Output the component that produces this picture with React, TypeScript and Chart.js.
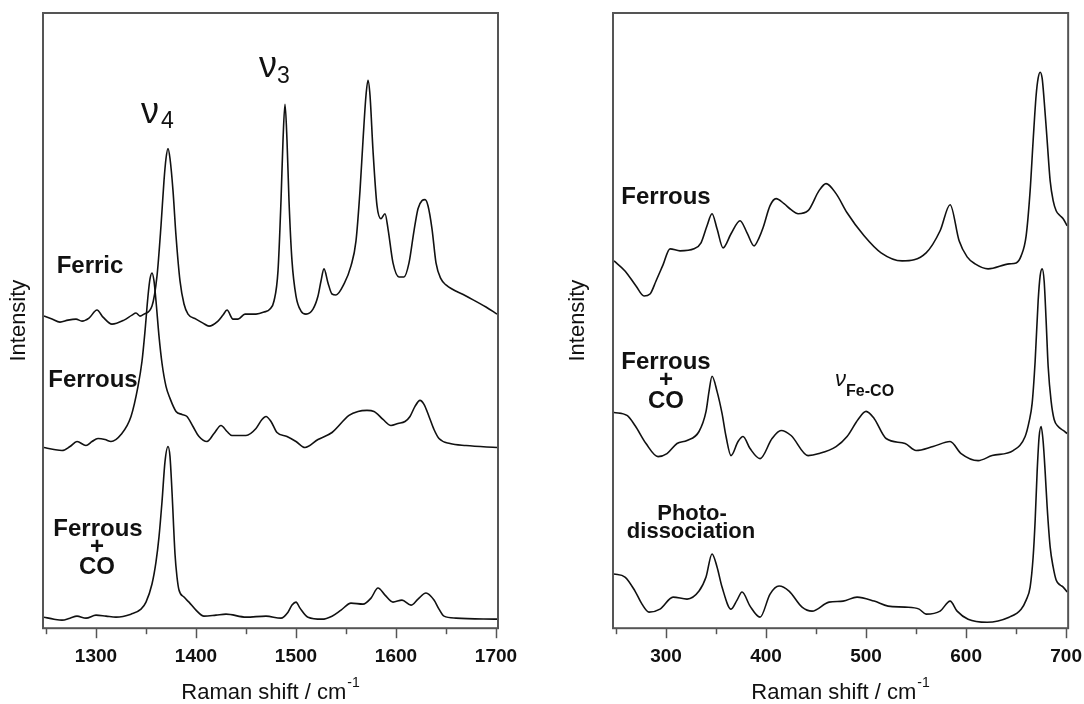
import React, { useEffect, useRef } from 'react';
import { Chart, registerables } from 'chart.js';

Chart.register(...registerables);

const FONT = '"Liberation Sans", Arial, Helvetica, sans-serif';
const INK = '#111111';
const FRAME = '#555555';

// axis ranges (Raman shift, cm-1) and intensity range (arbitrary units)
const leftRange: [number, number] = [1247, 1702];
const rightRange: [number, number] = [247, 702];
const intensityRange: [number, number] = [0, 613];

const leftTicks = [1250, 1300, 1350, 1400, 1450, 1500, 1550, 1600, 1650, 1700];
const rightTicks = [250, 300, 350, 400, 450, 500, 550, 600, 650, 700];

// ---- left panel: high-frequency region ----
const ferric: [number, number][] = [
  [1248, 311], [1256, 308], [1264, 305], [1272, 307], [1280, 308], [1286, 306], [1293, 309], [1301, 317],
  [1307, 310], [1316, 303], [1328, 307], [1336, 312], [1340, 314], [1344, 311], [1348, 313], [1356, 321],
  [1361, 351], [1365, 401], [1368, 446], [1370, 468], [1372, 478], [1374, 468], [1377, 436], [1380, 391],
  [1384, 346], [1388, 323], [1392, 313], [1400, 308], [1407, 304], [1413, 301], [1422, 306], [1427, 312],
  [1431, 317], [1437, 308], [1442, 308], [1449, 313], [1460, 313], [1468, 315], [1474, 318], [1478, 326],
  [1482, 356], [1485, 426], [1487, 486], [1489, 522], [1491, 486], [1493, 426], [1496, 366], [1500, 331],
  [1505, 316], [1510, 313], [1517, 318], [1522, 331], [1525, 346], [1528, 358], [1532, 344], [1536, 333],
  [1540, 332], [1548, 343], [1555, 361], [1560, 386], [1564, 436], [1567, 486], [1570, 531], [1572, 546],
  [1574, 531], [1577, 476], [1581, 421], [1585, 408], [1589, 413], [1592, 398], [1597, 364], [1603, 350],
  [1608, 350], [1613, 364], [1618, 396], [1622, 418], [1626, 426], [1629, 427], [1632, 421], [1636, 398],
  [1640, 364], [1645, 348], [1650, 342], [1670, 331], [1690, 320], [1701, 313],
];

const ferrousHigh: [number, number][] = [
  [1248, 180], [1258, 178], [1266, 177], [1274, 181], [1281, 186], [1290, 182], [1296, 186], [1302, 189],
  [1309, 188], [1315, 186], [1325, 193], [1335, 211], [1342, 241], [1346, 266], [1349, 296], [1352, 331],
  [1354, 348], [1356, 354], [1358, 346], [1360, 326], [1363, 291], [1366, 264], [1370, 241], [1374, 229],
  [1380, 216], [1386, 213], [1391, 211], [1397, 201], [1403, 191], [1411, 186], [1418, 194], [1425, 202],
  [1431, 196], [1436, 192], [1450, 192], [1460, 199], [1466, 208], [1470, 211], [1475, 206], [1481, 195],
  [1491, 191], [1500, 186], [1509, 180], [1522, 188], [1536, 195], [1553, 212], [1562, 216], [1571, 217],
  [1578, 216], [1587, 208], [1595, 202], [1602, 204], [1609, 206], [1614, 211], [1619, 221], [1624, 227],
  [1628, 223], [1633, 211], [1638, 198], [1643, 189], [1654, 184], [1670, 182], [1701, 180],
];

const ferrousCOHigh: [number, number][] = [
  [1248, 11], [1258, 9], [1266, 8], [1274, 10], [1281, 12], [1290, 10], [1300, 13], [1310, 12],
  [1320, 11], [1335, 14], [1345, 19], [1350, 26], [1356, 44], [1360, 66], [1363, 91], [1366, 126],
  [1369, 166], [1372, 181], [1374, 171], [1376, 136], [1379, 74], [1381, 51], [1383, 38], [1388, 31],
  [1393, 26], [1400, 18], [1408, 12], [1420, 13], [1430, 14], [1450, 11], [1470, 12], [1485, 10],
  [1492, 16], [1496, 23], [1500, 26], [1504, 20], [1512, 11], [1526, 9], [1536, 12], [1545, 18],
  [1555, 25], [1567, 24], [1575, 30], [1582, 40], [1589, 33], [1597, 26], [1606, 28], [1615, 23],
  [1622, 29], [1630, 35], [1638, 28], [1643, 19], [1648, 12], [1660, 10], [1701, 9],
];

// ---- right panel: low-frequency region ----
const ferrousLow: [number, number][] = [
  [248, 366], [259, 356], [270, 341], [278, 331], [284, 333], [290, 346], [297, 362], [304, 378],
  [314, 376], [328, 378], [335, 384], [341, 401], [346, 413], [351, 398], [357, 379], [365, 393],
  [374, 406], [381, 394], [388, 381], [393, 389], [397, 399], [404, 421], [410, 428], [418, 423],
  [425, 417], [432, 413], [442, 416], [453, 436], [460, 443], [470, 433], [481, 414], [498, 391],
  [515, 374], [536, 366], [560, 374], [574, 396], [584, 422], [593, 386], [601, 370], [609, 363],
  [622, 358], [643, 363], [650, 364], [655, 371], [660, 391], [664, 436], [667, 486], [670, 531],
  [672, 548], [674, 554], [676, 548], [678, 526], [681, 486], [684, 446], [687, 426], [690, 416],
  [694, 411], [697, 408], [701, 401],
];

const ferrousCOLow: [number, number][] = [
  [248, 215], [261, 212], [269, 202], [280, 184], [292, 171], [301, 174], [311, 184], [321, 187],
  [333, 196], [340, 216], [343, 236], [346, 251], [351, 236], [356, 214], [360, 191], [365, 172],
  [372, 186], [377, 191], [384, 179], [394, 169], [406, 189], [415, 197], [425, 192], [442, 172],
  [453, 174], [470, 181], [481, 191], [492, 208], [500, 216], [508, 209], [520, 189], [539, 184],
  [550, 177], [567, 181], [584, 186], [595, 174], [612, 167], [626, 172], [647, 177], [659, 191],
  [663, 206], [666, 224], [669, 266], [672, 326], [674, 351], [676, 358], [678, 346], [680, 306],
  [682, 261], [685, 226], [688, 208], [692, 201], [697, 197], [701, 194],
];

const photodissociation: [number, number][] = [
  [248, 54], [259, 51], [269, 37], [276, 24], [283, 16], [294, 19], [307, 31], [321, 29],
  [333, 37], [340, 51], [346, 74], [351, 61], [356, 41], [365, 19], [371, 28], [376, 36],
  [384, 22], [394, 11], [404, 34], [413, 42], [423, 37], [436, 21], [446, 17], [463, 26],
  [477, 27], [491, 31], [508, 27], [522, 22], [539, 21], [553, 19], [560, 14], [574, 17],
  [584, 27], [591, 17], [602, 9], [621, 6], [643, 11], [655, 19], [660, 28], [664, 41],
  [667, 71], [669, 107], [671, 156], [673, 191], [675, 201], [677, 186], [679, 156], [681, 121],
  [684, 81], [687, 61], [690, 48], [694, 43], [697, 41], [701, 36],
];

type Note = {
  text: string;
  x: number; // Raman shift anchor
  y: number; // intensity anchor
  font: string;
  align: CanvasTextAlign;
  baseline: CanvasTextBaseline;
};

const NAME = `bold 24px ${FONT}`;

const leftNotes: Note[] = [
  { text: 'ν', x: 1345, y: 503, font: `36px ${FONT}`, align: 'left', baseline: 'alphabetic' },
  { text: '4', x: 1365, y: 498, font: `23px ${FONT}`, align: 'left', baseline: 'alphabetic' },
  { text: 'ν', x: 1463, y: 549, font: `36px ${FONT}`, align: 'left', baseline: 'alphabetic' },
  { text: '3', x: 1481, y: 543, font: `23px ${FONT}`, align: 'left', baseline: 'alphabetic' },
  { text: 'Ferric', x: 1294, y: 361, font: NAME, align: 'center', baseline: 'middle' },
  { text: 'Ferrous', x: 1297, y: 247, font: NAME, align: 'center', baseline: 'middle' },
  { text: 'Ferrous', x: 1302, y: 98, font: NAME, align: 'center', baseline: 'middle' },
  { text: '+', x: 1301, y: 81, font: NAME, align: 'center', baseline: 'middle' },
  { text: 'CO', x: 1301, y: 61, font: NAME, align: 'center', baseline: 'middle' },
];

const rightNotes: Note[] = [
  { text: 'Ferrous', x: 300, y: 429, font: NAME, align: 'center', baseline: 'middle' },
  { text: 'Ferrous', x: 300, y: 265, font: NAME, align: 'center', baseline: 'middle' },
  { text: '+', x: 300, y: 247, font: NAME, align: 'center', baseline: 'middle' },
  { text: 'CO', x: 300, y: 226, font: NAME, align: 'center', baseline: 'middle' },
  { text: 'Photo-', x: 326, y: 114, font: `bold 22px ${FONT}`, align: 'center', baseline: 'middle' },
  { text: 'dissociation', x: 325, y: 96, font: `bold 22px ${FONT}`, align: 'center', baseline: 'middle' },
  { text: 'ν', x: 469, y: 241, font: `italic 22px ${FONT}`, align: 'left', baseline: 'alphabetic' },
  { text: 'Fe-CO', x: 480, y: 231, font: `bold 16px ${FONT}`, align: 'left', baseline: 'alphabetic' },
];

type PanelCfg = {
  left: number;
  width: number;
  range: [number, number];
  ticks: number[];
  series: [number, number][][];
  notes: Note[];
  padding: { left: number; right: number; top: number; bottom: number };
  yTitleGap: number;
};

function makeDecor(cfg: PanelCfg) {
  return {
    id: 'decor',
    afterDraw(chart: any) {
      const { ctx, chartArea: a, scales } = chart;
      const xs = scales.x;
      const ys = scales.y;
      ctx.save();
      // frame
      ctx.strokeStyle = FRAME;
      ctx.lineWidth = 2;
      ctx.strokeRect(a.left, a.top, a.right - a.left, a.bottom - a.top);
      // tick marks
      ctx.lineWidth = 1.5;
      for (const t of cfg.ticks) {
        const px = Math.round(xs.getPixelForValue(t)) + 0.5;
        const len = t % 100 === 0 ? 10 : 6;
        ctx.beginPath();
        ctx.moveTo(px, a.bottom);
        ctx.lineTo(px, a.bottom + len);
        ctx.stroke();
      }
      // annotations
      ctx.fillStyle = INK;
      for (const n of cfg.notes) {
        ctx.font = n.font;
        ctx.textAlign = n.align;
        ctx.textBaseline = n.baseline;
        ctx.fillText(n.text, xs.getPixelForValue(n.x), ys.getPixelForValue(n.y));
      }
      // x title with superscript
      const main = 'Raman shift / cm';
      const sup = '-1';
      ctx.font = `22px ${FONT}`;
      const wMain = ctx.measureText(main).width;
      ctx.font = `14px ${FONT}`;
      const wSup = ctx.measureText(sup).width;
      const cx = (a.left + a.right) / 2;
      const start = cx - (wMain + wSup + 1) / 2;
      ctx.textAlign = 'left';
      ctx.textBaseline = 'alphabetic';
      ctx.font = `22px ${FONT}`;
      ctx.fillText(main, start, 699);
      ctx.font = `14px ${FONT}`;
      ctx.fillText(sup, start + wMain + 1, 687);
      // y title
      ctx.save();
      ctx.translate(a.left - cfg.yTitleGap, (a.top + a.bottom) / 2);
      ctx.rotate(-Math.PI / 2);
      ctx.font = `22px ${FONT}`;
      ctx.textAlign = 'center';
      ctx.textBaseline = 'middle';
      ctx.fillText('Intensity', 0, 0);
      ctx.restore();
      ctx.restore();
    },
  };
}

function Panel({ cfg }: { cfg: PanelCfg }) {
  const ref = useRef<HTMLCanvasElement | null>(null);
  useEffect(() => {
    if (!ref.current) return;
    const chart = new Chart(ref.current, {
      type: 'line',
      data: {
        datasets: cfg.series.map((s) => ({
          data: s.map(([x, y]) => ({ x, y })),
          borderColor: INK,
          borderWidth: 1.6,
          pointRadius: 0,
          fill: false,
          cubicInterpolationMode: 'monotone' as const,
        })),
      },
      options: {
        animation: false,
        responsive: false,
        maintainAspectRatio: false,
        layout: { padding: cfg.padding },
        plugins: { legend: { display: false }, tooltip: { enabled: false } },
        scales: {
          x: {
            type: 'linear',
            min: cfg.range[0],
            max: cfg.range[1],
            afterBuildTicks: (axis: any) => {
              axis.ticks = cfg.ticks.map((v) => ({ value: v }));
            },
            grid: { display: false, drawTicks: false },
            border: { display: false },
            ticks: {
              autoSkip: false,
              maxRotation: 0,
              minRotation: 0,
              padding: 17,
              color: INK,
              font: { family: FONT, size: 19, weight: 'bold' },
              callback: (v: any) => (Number(v) % 100 === 0 ? String(v) : ''),
            },
          },
          y: {
            type: 'linear',
            display: false,
            min: intensityRange[0],
            max: intensityRange[1],
          },
        },
      },
      plugins: [makeDecor(cfg)],
    } as any);
    return () => chart.destroy();
  }, [cfg]);
  return (
    <canvas
      ref={ref}
      width={cfg.width}
      height={704}
      style={{ position: 'absolute', left: cfg.left, top: 0, width: cfg.width, height: 704 }}
    />
  );
}

const leftCfg: PanelCfg = {
  left: 0,
  width: 542,
  range: leftRange,
  ticks: leftTicks,
  series: [ferric, ferrousHigh, ferrousCOHigh],
  notes: leftNotes,
  padding: { left: 43, right: 44, top: 13, bottom: 19 },
  yTitleGap: 24,
};

const rightCfg: PanelCfg = {
  left: 542,
  width: 557,
  range: rightRange,
  ticks: rightTicks,
  series: [ferrousLow, ferrousCOLow, photodissociation],
  notes: rightNotes,
  padding: { left: 71, right: 0, top: 13, bottom: 19 },
  yTitleGap: 35,
};

export default function App() {
  return (
    <div style={{ position: 'absolute', left: 0, top: 0, width: 1084, height: 704, background: '#ffffff', overflow: 'hidden' }}>
      <Panel cfg={leftCfg} />
      <Panel cfg={rightCfg} />
    </div>
  );
}
